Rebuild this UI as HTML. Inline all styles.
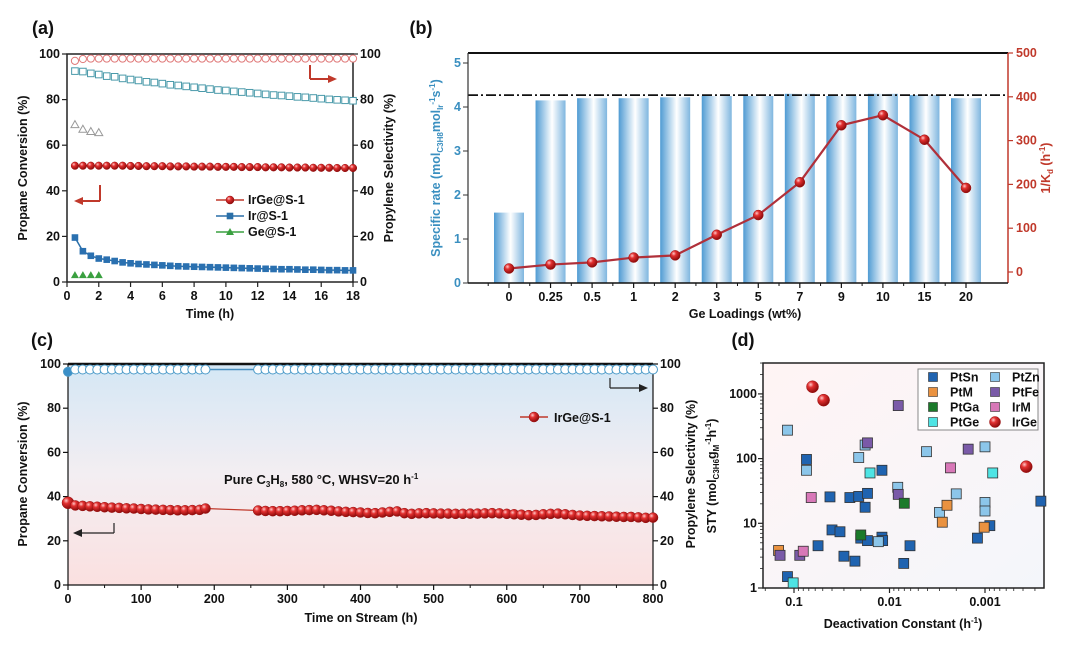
<!DOCTYPE html>
<html><head><meta charset="utf-8">
<style>
html,body{margin:0;padding:0;background:#fff;}
svg{display:block;font-family:"Liberation Sans",Arial,sans-serif;}
text{font-weight:bold;}
</style></head>
<body>
<svg id="fig" width="1080" height="650" viewBox="0 0 1080 650" xmlns="http://www.w3.org/2000/svg">
<defs>
<radialGradient id="ball" cx="35%" cy="32%" r="70%">
<stop offset="0" stop-color="#ffc8c8"/><stop offset="0.35" stop-color="#e23030"/><stop offset="1" stop-color="#8a0a0a"/>
</radialGradient>
<linearGradient id="barg" x1="0" x2="1" y1="0" y2="0">
<stop offset="0" stop-color="#4f9bd3"/><stop offset="0.55" stop-color="#ffffff"/><stop offset="1" stop-color="#7fb6df"/>
</linearGradient>
<linearGradient id="cbg" x1="0" x2="0" y1="0" y2="1">
<stop offset="0" stop-color="#d4e7f5"/><stop offset="0.5" stop-color="#f3eef2"/><stop offset="1" stop-color="#fbe0e0"/>
</linearGradient>
<linearGradient id="dbg" x1="0" x2="1" y1="0" y2="1">
<stop offset="0" stop-color="#fff4f4"/><stop offset="1" stop-color="#f4f6fb"/>
</linearGradient>
</defs>
</svg>
<script>
// ---------- Panel (a) data ----------
const aTime = [0.5,1,1.5,2,2.5,3,3.5,4,4.5,5,5.5,6,6.5,7,7.5,8,8.5,9,9.5,10,10.5,11,11.5,12,12.5,13,13.5,14,14.5,15,15.5,16,16.5,17,17.5,18];
const aIrGeConv = [51,51,51,51,51,51,51,50.9,50.9,50.8,50.8,50.8,50.7,50.7,50.7,50.6,50.6,50.6,50.5,50.5,50.5,50.4,50.4,50.4,50.3,50.3,50.3,50.2,50.2,50.2,50.1,50.1,50.1,50,50,50];
const aIrConv = [19.5,13.5,11.5,10.3,9.8,9.2,8.6,8.2,7.9,7.7,7.5,7.3,7.1,6.9,6.8,6.7,6.6,6.5,6.4,6.3,6.2,6.1,6.0,5.9,5.8,5.7,5.6,5.6,5.5,5.4,5.4,5.3,5.2,5.2,5.1,5.1];
const aGeTime = [0.5,1,1.5,2];
const aGeConv = [3,3,3,3];
const aIrGeSel = [97,97.8,98,98,98,98,98,98,98,98,98,98,98,98,98,98,98,98,98,98,98,98,98,98,98,98,98,98,98,98,98,98,98,98,98,98];
const aIrSel = [92.5,92.3,91.5,91,90.3,90,89.3,88.8,88.4,87.8,87.5,87,86.5,86.2,85.8,85.4,85,84.6,84.2,84,83.6,83.3,83,82.7,82.3,82,81.8,81.5,81.2,81,80.7,80.4,80.1,79.9,79.7,79.5];
const aGeSel = [69,67,66,65.5];
const aTicksX = [0,2,4,6,8,10,12,14,16,18];
const aTicksY = [0,20,40,60,80,100];

// ---------- Panel (b) data ----------
const bCats = ["0","0.25","0.5","1","2","3","5","7","9","10","15","20"];
const bRate = [1.6,4.15,4.2,4.2,4.22,4.25,4.25,4.3,4.25,4.3,4.27,4.2];
const bInvKd = [8,17,22,33,38,85,130,205,335,358,302,192];
const bRefRate = 4.27;
const bTicksL = [0,1,2,3,4,5];
const bTicksR = [0,100,200,300,400,500];

// ---------- Panel (c) data ----------
const cTime1 = [0,10,20,30,40,50,60,70,80,90,100,110,120,130,140,150,160,170,180,188];
const cConv1 = [37.2,36,35.8,35.6,35.4,35.2,35,34.9,34.7,34.6,34.4,34.2,34.1,34,33.9,33.8,33.8,33.9,34,34.6];
const cSel1 = [96.5,97.5,97.5,97.5,97.5,97.5,97.5,97.5,97.5,97.5,97.5,97.5,97.5,97.5,97.5,97.5,97.5,97.5,97.5,97.5];
const cTime2 = [260,270,280,290,300,310,320,330,340,350,360,370,380,390,400,410,420,430,440,450,460,470,480,490,500,510,520,530,540,550,560,570,580,590,600,610,620,630,640,650,660,670,680,690,700,710,720,730,740,750,760,770,780,790,800];
const cConv2 = [33.7,33.5,33.4,33.4,33.5,33.6,33.8,33.9,34,33.8,33.6,33.3,33.1,33,32.8,32.6,32.5,32.8,33.1,33.3,32.5,32.2,32.4,32.5,32.4,32.3,32.3,32.2,32.2,32.3,32.3,32.4,32.5,32.4,32.2,32,31.8,31.6,31.7,32,32.2,32.3,32,31.7,31.4,31.3,31.2,31.1,31,30.9,30.8,30.8,30.6,30.4,30.5];
const cSel2 = [97.5,97.5,97.5,97.5,97.5,97.5,97.5,97.5,97.5,97.5,97.5,97.5,97.5,97.5,97.5,97.5,97.5,97.5,97.5,97.5,97.5,97.5,97.5,97.5,97.5,97.5,97.5,97.5,97.5,97.5,97.5,97.5,97.5,97.5,97.5,97.5,97.5,97.5,97.5,97.5,97.5,97.5,97.5,97.5,97.5,97.5,97.5,97.5,97.5,97.5,97.5,97.5,97.5,97.5,97.5];
const cTicksX = [0,100,200,300,400,500,600,700,800];
const cTicksY = [0,20,40,60,80,100];

// ---------- Panel (d) data ----------
const dPtSnK = [0.074,0.117,0.056,0.042,0.040,0.033,0.030,0.026,0.023,0.021,0.017,0.018,0.020,0.017,0.012,0.0118,0.012,0.0071,0.0061,0.0012,0.00089,0.00026];
const dPtSnY = [97,1.5,4.5,25.6,7.9,7.4,3.1,25,2.6,26,29,17.7,5.9,5.4,6.1,5.4,66,2.4,4.5,5.9,9.2,22];
const dPtZnK = [0.117,0.074,0.021,0.018,0.0082,0.0041,0.0030,0.0020,0.001,0.001,0.001,0.0131];
const dPtZnY = [275,66,104,162,36,128,14.7,28.5,152,21,15.5,5.2];
const dPtMK = [0.145,0.0028,0.0025,0.00102];
const dPtMY = [3.8,10.4,19,8.7];
const dPtFeK = [0.14,0.087,0.017,0.0081,0.0081,0.0015];
const dPtFeY = [3.2,3.2,175,660,28,140];
const dPtGaK = [0.020,0.0070];
const dPtGaY = [6.6,20.4];
const dPtGeK = [0.102,0.016,0.00083];
const dPtGeY = [1.2,60,60];
const dIrMK = [0.080,0.066,0.0023];
const dIrMY = [3.7,25,72];
const dIrGeK = [0.064,0.049,0.00037];
const dIrGeY = [1290,800,75];

const NS = "http://www.w3.org/2000/svg";
const svg = document.getElementById('fig');
function el(tag, attrs, name, parent){
  const e = document.createElementNS(NS, tag);
  for (const k in attrs) e.setAttribute(k, attrs[k]);
  
  
  (parent||svg).appendChild(e);
  return e;
}
function txt(x,y,s,size,anchor,name,fill,rot,parent){
  const t = el('text',{x:x,y:y,'font-size':size,'text-anchor':anchor||'middle',fill:fill||'#111'},name,parent);
  if(rot) t.setAttribute('transform','rotate('+rot+' '+x+' '+y+')');
  t.innerHTML = s;
  return t;
}
function line(x1,y1,x2,y2,stroke,w,name,dash){
  const l = el('line',{x1:x1,y1:y1,x2:x2,y2:y2,stroke:stroke,'stroke-width':w||1},name);
  if(dash) l.setAttribute('stroke-dasharray',dash);
  return l;
}
function poly(pts,stroke,w,name){
  return el('polyline',{points:pts.map(p=>p.join(',')).join(' '),fill:'none',stroke:stroke,'stroke-width':w},name);
}
function ball(x,y,r,name){ return el('circle',{cx:x,cy:y,r:r,fill:'url(#ball)',stroke:'#9a1010','stroke-width':0.5},name); }
function arrowHead(x,y,dir,color,name){
  const s=dir>0?1:-1;
  return el('polygon',{points:`${x},${y} ${x-9*s},${y-4} ${x-9*s},${y+4}`,fill:color},name);
}

// ================= Panel (a) =================
const aL=67,aR=353,aT=54,aB=282;
const ax=t=>aL+t/18*(aR-aL), ay=v=>aB-v/100*(aB-aT);
txt(43,34,'(a)',18,'middle','panel-a-label');
el('rect',{x:aL,y:aT,width:aR-aL,height:aB-aT,fill:'none',stroke:'#222','stroke-width':1.5},'panel-a-frame');
aTicksX.forEach(t=>{line(ax(t),aB,ax(t),aB+5,'#222',1.2,'a-x-tick');txt(ax(t),aB+18,t,12.5,'middle','a-x-tick-label');});
aTicksY.forEach(v=>{
  line(aL-5,ay(v),aL,ay(v),'#222',1.2,'a-y-tick');txt(aL-7,ay(v)+4,v,12.5,'end','a-y-tick-label');
  line(aR,ay(v),aR+5,ay(v),'#222',1.2,'a-y2-tick');txt(aR+7,ay(v)+4,v,12.5,'start','a-y2-tick-label');
});
txt(210,318,'Time (h)',12.5,'middle','a-x-axis-title');
txt(27,168,'Propane Conversion (%)',12.5,'middle','a-y-axis-title',null,-90);
txt(393,168,'Propylene Selectivity (%)',12.5,'middle','a-y2-axis-title',null,-90);
aTime.forEach((t,i)=>el('circle',{cx:ax(t),cy:ay(aIrGeSel[i]),r:3.6,fill:'#fff',stroke:'#e07a7a','stroke-width':1},'a-irge-selectivity-point'));
aTime.forEach((t,i)=>el('rect',{x:ax(t)-3.3,y:ay(aIrSel[i])-3.3,width:6.6,height:6.6,fill:'#fff',stroke:'#4a9aaa','stroke-width':1},'a-ir-selectivity-point'));
aGeTime.forEach((t,i)=>el('polygon',{points:`${ax(t)},${ay(aGeSel[i])-4} ${ax(t)-4},${ay(aGeSel[i])+3} ${ax(t)+4},${ay(aGeSel[i])+3}`,fill:'#fff',stroke:'#999','stroke-width':1},'a-ge-selectivity-point'));
poly(aTime.map((t,i)=>[ax(t),ay(aIrGeConv[i])]),'#c0392b',1.5,'a-irge-conversion-line');
aTime.forEach((t,i)=>ball(ax(t),ay(aIrGeConv[i]),3.8,'a-irge-conversion-point'));
poly(aTime.map((t,i)=>[ax(t),ay(aIrConv[i])]),'#2a6fa8',1.5,'a-ir-conversion-line');
aTime.forEach((t,i)=>el('rect',{x:ax(t)-3.3,y:ay(aIrConv[i])-3.3,width:6.6,height:6.6,fill:'#2a70b0'},'a-ir-conversion-point'));
aGeTime.forEach((t,i)=>el('polygon',{points:`${ax(t)},${ay(aGeConv[i])-4} ${ax(t)-4},${ay(aGeConv[i])+3} ${ax(t)+4},${ay(aGeConv[i])+3}`,fill:'#3aa040'},'a-ge-conversion-point'));
line(100,185,100,201,'#c0392b',2,'a-left-arrow-stem');line(82,201,100,201,'#c0392b',2,'a-left-arrow-shaft');arrowHead(74,201,-1,'#c0392b','a-left-arrow-head');
line(310,65,310,79,'#c0392b',2,'a-right-arrow-stem');line(310,79,328,79,'#c0392b',2,'a-right-arrow-shaft');arrowHead(337,79,1,'#c0392b','a-right-arrow-head');
[['IrGe@S-1','#c0392b','c',200],['Ir@S-1','#2a6fa8','s',216],['Ge@S-1','#3aa040','t',232]].forEach(([n,c,m,y])=>{
  line(216,y,244,y,c,1.5,'a-legend-line');
  if(m==='c') ball(230,y,4,'a-legend-marker');
  if(m==='s') el('rect',{x:226.7,y:y-3.3,width:6.6,height:6.6,fill:c},'a-legend-marker');
  if(m==='t') el('polygon',{points:`230,${y-4} 226,${y+3} 234,${y+3}`,fill:c},'a-legend-marker');
  txt(248,y+4,n,12.5,'start','a-legend-label');
});

// ================= Panel (b) =================
const bL=468,bR=1008,bT=53,bB=283;
const bx=i=>509+i*(966-509)/11, by=v=>bB-v*44, bry=v=>272-v*0.438;
txt(421,34,'(b)',18,'middle','panel-b-label');
bRate.forEach((v,i)=>el('rect',{x:bx(i)-15,y:by(v),width:30,height:bB-by(v),fill:'url(#barg)'},'b-rate-bar'));
line(bL,by(bRefRate),bR,by(bRefRate),'#111',1.8,'b-reference-line','10,3,2,3');
line(bL,bT,bR,bT,'#111',2,'b-top-frame');
line(bL,bT,bL,bB,'#333',1.2,'b-left-axis');
line(bR,bT,bR,bB,'#c0392b',1.5,'b-right-axis');
line(bL,bB,bR,bB,'#111',1.5,'b-x-axis');
bTicksL.forEach(v=>{line(bL-5,by(v),bL,by(v),'#333',1,'b-y-tick');txt(bL-7,by(v)+4,v,12.5,'end','b-y-tick-label','#3a8fc0');});
bTicksR.forEach(v=>{line(bR,bry(v),bR+5,bry(v),'#c0392b',1.2,'b-y2-tick');txt(bR+8,bry(v)+4,v,12.5,'start','b-y2-tick-label','#c0392b');});
bCats.forEach((c,i)=>{line(bx(i),bB,bx(i),bB+5,'#111',1.2,'b-x-tick');line(bx(i)-20.8,bB,bx(i)-20.8,bB+3,'#111',1,'b-x-minor-tick');txt(bx(i),bB+18,c,12.5,'middle','b-x-tick-label');});
txt(745,318,'Ge Loadings (wt%)',12.5,'middle','b-x-axis-title');
txt(440,168,'Specific rate (mol<tspan font-size="8" dy="3">C3H8</tspan><tspan dy="-3">mol</tspan><tspan font-size="8" dy="3">Ir</tspan><tspan font-size="8" dy="-8">-1</tspan><tspan dy="5">s</tspan><tspan font-size="8" dy="-5">-1</tspan><tspan dy="5">)</tspan>',12.5,'middle','b-y-axis-title','#3a8fc0',-90);
txt(1050,168,'1/K<tspan font-size="8" dy="3">d</tspan><tspan dy="-3"> (h</tspan><tspan font-size="8" dy="-5">-1</tspan><tspan dy="5">)</tspan>',12.5,'middle','b-y2-axis-title','#c0392b',-90);
poly(bInvKd.map((v,i)=>[bx(i),bry(v)]),'#b0303a',2.2,'b-invkd-line');
bInvKd.forEach((v,i)=>ball(bx(i),bry(v),5,'b-invkd-point'));

// ================= Panel (c) =================
const cL=68,cR=653,cT=364,cB=585;
const cx=t=>cL+t/800*(cR-cL), cy=v=>cB-v*(cB-cT)/100;
txt(42,346,'(c)',18,'middle','panel-c-label');
el('rect',{x:cL,y:cT,width:cR-cL,height:cB-cT,fill:'url(#cbg)'},'c-plot-background');
line(cL,cT,cR,cT,'#111',2.5,'c-top-frame');
line(cL,cT,cL,cB,'#111',1.2,'c-left-axis');line(cR,cT,cR,cB,'#111',1.2,'c-right-axis');line(cL,cB,cR,cB,'#111',1.2,'c-x-axis');
cTicksX.forEach(t=>{line(cx(t),cB,cx(t),cB+5,'#111',1.2,'c-x-tick');if(t<800)line(cx(t+50),cB,cx(t+50),cB+3,'#111',1,'c-x-minor-tick');txt(cx(t),cB+18,t,12.5,'middle','c-x-tick-label');});
cTicksY.forEach(v=>{
  line(cL-5,cy(v),cL,cy(v),'#111',1.2,'c-y-tick');txt(cL-7,cy(v)+4,v,12.5,'end','c-y-tick-label');
  line(cR,cy(v),cR+5,cy(v),'#111',1.2,'c-y2-tick');txt(cR+7,cy(v)+4,v,12.5,'start','c-y2-tick-label');
});
txt(361,622,'Time on Stream (h)',12.5,'middle','c-x-axis-title');
txt(27,474,'Propane Conversion (%)',12.5,'middle','c-y-axis-title',null,-90);
txt(695,474,'Propylene Selectivity (%)',12.5,'middle','c-y2-axis-title',null,-90);
line(cx(cTime1[cTime1.length-1]),cy(cSel1[cSel1.length-1]),cx(cTime2[0]),cy(cSel2[0]),'#4a90c0',1.5,'c-selectivity-gap-line');
cTime1.forEach((t,i)=>el('circle',{cx:cx(t),cy:cy(cSel1[i]),r:4.5,fill:i===0?'#3a8fc8':'#fff',stroke:'#4a9ac8','stroke-width':1},'c-selectivity-point'));
cTime2.forEach((t,i)=>el('circle',{cx:cx(t),cy:cy(cSel2[i]),r:4.5,fill:'#fff',stroke:'#4a9ac8','stroke-width':1},'c-selectivity-point'));
line(cx(cTime1[cTime1.length-1]),cy(cConv1[cConv1.length-1]),cx(cTime2[0]),cy(cConv2[0]),'#c0392b',1.2,'c-conversion-gap-line');
cTime1.forEach((t,i)=>ball(cx(t),cy(cConv1[i]),i===0?6:5,'c-conversion-point'));
cTime2.forEach((t,i)=>ball(cx(t),cy(cConv2[i]),5,'c-conversion-point'));
line(114,523,114,533,'#222',1.2,'c-left-arrow-stem');line(80,533,114,533,'#222',1.2,'c-left-arrow-shaft');arrowHead(73,533,-1,'#222','c-left-arrow-head');
line(610,378,610,388,'#222',1.2,'c-right-arrow-stem');line(610,388,640,388,'#222',1.2,'c-right-arrow-shaft');arrowHead(648,388,1,'#222','c-right-arrow-head');
line(520,417,548,417,'#c0392b',1.5,'c-legend-line');ball(534,417,5,'c-legend-marker');
txt(554,422,'IrGe@S-1',12.5,'start','c-legend-label');
txt(224,484,'Pure C<tspan font-size="8" dy="3">3</tspan><tspan dy="-3">H</tspan><tspan font-size="8" dy="3">8</tspan><tspan dy="-3">, 580 °C, WHSV=20 h</tspan><tspan font-size="8" dy="-5">-1</tspan>',13,'start','c-condition-annotation');

// ================= Panel (d) =================
const dL=763,dR=1044,dT=363,dB=588;
const dx=k=>794+(-1-Math.log10(k))*95.5, dy=s=>588-Math.log10(s)*64.7;
txt(743,346,'(d)',18,'middle','panel-d-label');
el('rect',{x:dL,y:dT,width:dR-dL,height:dB-dT,fill:'url(#dbg)',stroke:'#222','stroke-width':1.5},'d-plot-frame');
[0.1,0.01,0.001].forEach(k=>{line(dx(k),dB,dx(k),dB+5,'#222',1.2,'d-x-tick');txt(dx(k),dB+18,k,12.5,'middle','d-x-tick-label');});
[0.2,0.09,0.08,0.07,0.06,0.05,0.04,0.03,0.02,0.009,0.008,0.007,0.006,0.005,0.004,0.003,0.002,0.0009,0.0008,0.0007,0.0006,0.0005,0.0004,0.0003].forEach(k=>line(dx(k),dB,dx(k),dB+3,'#222',0.8,'d-x-minor-tick'));
[1,10,100,1000].forEach(s=>{line(dL-5,dy(s),dL,dy(s),'#222',1.2,'d-y-tick');txt(dL-6,dy(s)+4,s,12.5,'end','d-y-tick-label');});
[2,3,4,5,6,7,8,9].forEach(m=>[1,10,100,1000].forEach(d=>{if(dy(m*d)>dT)line(dL-3,dy(m*d),dL,dy(m*d),'#222',0.8,'d-y-minor-tick');}));
txt(903,628,'Deactivation Constant (h<tspan font-size="8" dy="-5">-1</tspan><tspan dy="5">)</tspan>',12.5,'middle','d-x-axis-title');
txt(716,476,'STY (mol<tspan font-size="8" dy="3">C3H6</tspan><tspan dy="-3">g</tspan><tspan font-size="8" dy="3">M</tspan><tspan font-size="8" dy="-8">-1</tspan><tspan dy="5">h</tspan><tspan font-size="8" dy="-5">-1</tspan><tspan dy="5">)</tspan>',12.5,'middle','d-y-axis-title',null,-90);
function sq(k,s,c,name){ el('rect',{x:dx(k)-5,y:dy(s)-5,width:10,height:10,fill:c,stroke:'#333','stroke-width':0.8},name); }
dPtSnK.forEach((k,i)=>sq(k,dPtSnY[i],'#1f63b0','d-ptsn-point'));
dPtZnK.forEach((k,i)=>sq(k,dPtZnY[i],'#8cc6ea','d-ptzn-point'));
dPtMK.forEach((k,i)=>sq(k,dPtMY[i],'#ea9240','d-ptm-point'));
dPtFeK.forEach((k,i)=>sq(k,dPtFeY[i],'#7a5aa8','d-ptfe-point'));
dPtGaK.forEach((k,i)=>sq(k,dPtGaY[i],'#1b7a2a','d-ptga-point'));
dPtGeK.forEach((k,i)=>sq(k,dPtGeY[i],'#4ee4e4','d-ptge-point'));
dIrMK.forEach((k,i)=>sq(k,dIrMY[i],'#d878b8','d-irm-point'));
dIrGeK.forEach((k,i)=>ball(dx(k),dy(dIrGeY[i]),6,'d-irge-point'));
el('rect',{x:918,y:369,width:120,height:61,fill:'#fff',stroke:'#888','stroke-width':1},'d-legend-box');
[['PtSn','#1f63b0',933,377],['PtM','#ea9240',933,392],['PtGa','#1b7a2a',933,407],['PtGe','#4ee4e4',933,422],
 ['PtZn','#8cc6ea',995,377],['PtFe','#7a5aa8',995,392],['IrM','#d878b8',995,407]].forEach(([n,c,x,y])=>{
  el('rect',{x:x-4.5,y:y-4.5,width:9,height:9,fill:c,stroke:'#333','stroke-width':0.6},'d-legend-marker');
  txt(x+17,y+4.5,n,12.5,'start','d-legend-label');
});
ball(995,422,5.5,'d-legend-marker');
txt(1012,426.5,'IrGe',12.5,'start','d-legend-label');
</script>
</body></html>
